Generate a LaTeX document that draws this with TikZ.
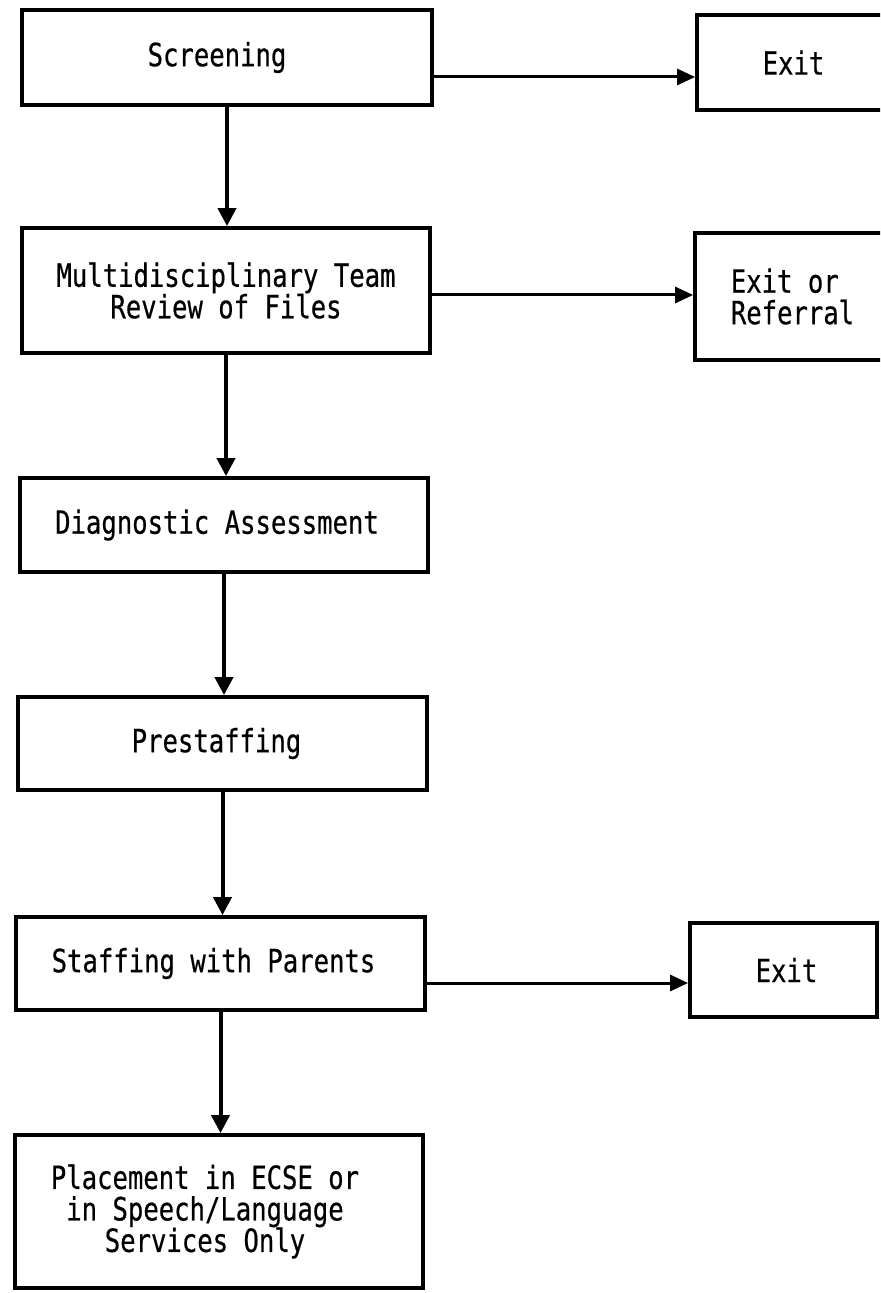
\documentclass[tikz,border=0pt]{standalone}
\usepackage{fontspec}
\setmonofont[FakeStretch=0.8,FakeBold=0.5]{DejaVu Sans Mono}
\usetikzlibrary{arrows.meta}

\begin{document}
\begin{tikzpicture}[x=0.5pt,y=-0.5pt,
  box/.style={draw, line width=1.9pt, inner sep=0pt},
  tx/.style={inner sep=0pt, align=center,
    font=\ttfamily\fontsize{16}{15.75}\selectfont},
  down/.style={line width=2pt, -{Triangle[length=9pt,width=9pt]}},
  side/.style={line width=1.5pt, -{Triangle[length=9pt,width=8pt]}}]

\useasboundingbox (0,0) rectangle (880,1293);
\clip (0,0) rectangle (880,1293);

% main column: box outlines, each with its caption
\node[box, minimum width=205pt, minimum height=47.5pt,
  label={[tx, name=scrT, xshift=-5pt]center:Screening}] (scr) at (227,57.5) {};
\node[box, minimum width=204pt, minimum height=62.5pt,
  label={[tx, name=multiT]center:Multidisciplinary Team\\Review of Files}] (multi) at (226,290.5) {};
\node[box, minimum width=204pt, minimum height=47pt,
  label={[tx, name=diagT, xshift=-3.5pt]center:Diagnostic Assessment}] (diag) at (224,525) {};
\node[box, minimum width=204.5pt, minimum height=46.5pt,
  label={[tx, name=preT, xshift=-3pt]center:Prestaffing}] (pre) at (222.5,743.5) {};
\node[box, minimum width=204.5pt, minimum height=46.5pt,
  label={[tx, name=staffT, xshift=-3.5pt]center:Staffing with Parents}] (staff) at (220.5,963.5) {};
\node[box, minimum width=204pt, minimum height=76.5pt,
  label={[tx, name=placeT, xshift=-7pt]center:Placement in ECSE or\\in Speech/Language\\Services Only}] (place) at (219,1211.5) {};

% side exits
\node[box, minimum width=101.5pt, minimum height=47.5pt,
  label={[tx, name=exAT, xshift=-2.5pt]center:Exit}] (exA) at (798.5,62.5) {};
\node[box, minimum width=102.5pt, minimum height=63.5pt,
  label={[tx, align=left, name=exBT, xshift=-2.5pt]center:Exit or\\Referral}] (exB) at (797.5,296.5) {};
\node[box, minimum width=93.5pt, minimum height=47pt,
  label={[tx, name=exCT, xshift=1.5pt]center:Exit}] (exC) at (783.5,970) {};

% flow downwards
\draw[down] (scr.south)   -- (scr.south |- multi.north);
\draw[down] (multi.south) -- (multi.south |- diag.north);
\draw[down] (diag.south)  -- (diag.south |- pre.north);
\draw[down] (pre.south)   -- (pre.south |- staff.north);
\draw[down] (staff.south) -- (staff.south |- place.north);

% branches to the right
\draw[side] ([yshift=-9.75pt]scr.east)   -- ([yshift=-9.75pt]scr.east -| exA.west);
\draw[side] ([yshift=-2.25pt]multi.east) -- ([yshift=-2.25pt]multi.east -| exB.west);
\draw[side] ([yshift=-9.75pt]staff.east) -- ([yshift=-9.75pt]staff.east -| exC.west);

\end{tikzpicture}
\end{document}
